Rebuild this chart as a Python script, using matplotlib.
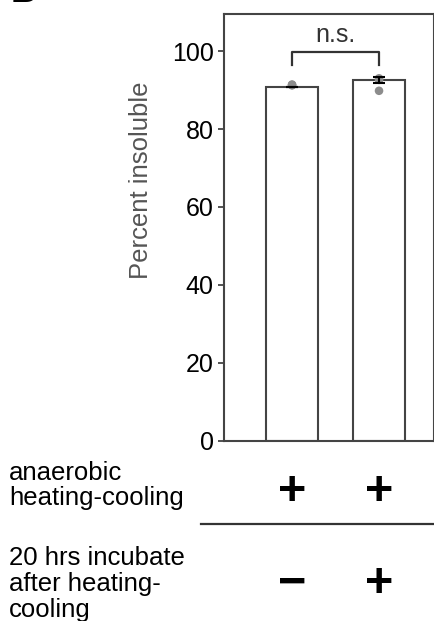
import matplotlib.pyplot as plt
from matplotlib.transforms import blended_transform_factory

plt.rcParams['font.family'] = ['Liberation Sans', 'DejaVu Sans']

# 各条件の値
conditions = ["no incubation", "20 hrs incubation"]
means = [90.8, 92.6]
sems = [0.0, 0.77]
points = [[91.4, 91.3, 91.2], [93.0, 92.6, 89.8]]
row1_signs = ["+", "+"]
row2_signs = ["\u2212", "+"]
row1_label = "anaerobic\nheating-cooling"
row2_label = "20 hrs incubate\nafter heating-\ncooling"
sig_text = "n.s."

fig = plt.figure(figsize=(4.35, 6.21), dpi=100)
ax = fig.add_axes([0.515, 0.2899, 0.4827, 0.6876])

spine_col = "#444444"
xs = list(range(len(conditions)))
ax.bar(xs, means, width=0.6, color="white", edgecolor=spine_col, linewidth=1.5, zorder=2)
ax.errorbar(xs, means, yerr=sems, fmt="none", ecolor="black", elinewidth=1.5,
            capsize=4, capthick=1.5, zorder=4)
for x, pts in zip(xs, points):
    ax.scatter([x] * len(pts), pts, s=38, color="#8c8c8c", edgecolors="none", zorder=3)

# 有意差ブラケット
ax.plot([0, 0, 1, 1], [96.4, 99.7, 99.7, 96.4], color="#333333", lw=1.6, zorder=3)
ax.text(0.5, 102.3, sig_text, ha="center", va="baseline", fontsize=18, color="#333333")

ax.set_xlim(-0.782, 1.632)
ax.set_ylim(0, 109.5)
ax.set_yticks([0, 20, 40, 60, 80, 100])
ax.set_xticks([])
ax.tick_params(axis="y", direction="out", length=4.5, width=1.3, color=spine_col,
               labelsize=18, pad=3)
for s in ax.spines.values():
    s.set_color(spine_col)
    s.set_linewidth(1.5)

ax.set_ylabel("Percent insoluble", fontsize=18.5, color="#555555", va="center")
ax.yaxis.set_label_coords(-0.395, 0.611)

# 下の条件表
tr = blended_transform_factory(ax.transData, fig.transFigure)
for x, s1, s2 in zip(xs, row1_signs, row2_signs):
    fig.text(x, 0.1868, s1, transform=tr, ha="center", va="baseline",
             fontsize=35, fontweight="bold")
    fig.text(x, 0.0386, s2, transform=tr, ha="center", va="baseline",
             fontsize=35, fontweight="bold")

fig.text(0.021, 0.1868, row1_label, ha="left", va="baseline", fontsize=18.5,
         linespacing=1.05)
fig.text(0.021, 0.0064, row2_label, ha="left", va="baseline", fontsize=18.5,
         linespacing=1.11)
fig.add_artist(plt.Line2D([0.462, 1.0], [1 - 524 / 621] * 2, color="#333333", lw=1.6))

# パネル記号
fig.text(0.025, 0.9968, "B", ha="left", va="baseline", fontsize=26, fontweight="bold")

fig.savefig("out.png", dpi=100)
